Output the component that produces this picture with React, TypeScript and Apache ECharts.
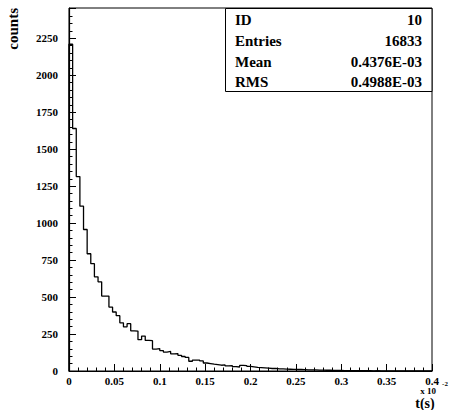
import React, { useEffect, useRef } from "react";
import * as echarts from "echarts";

// ---- data ----
const xMin = 0;
const xMax = 0.4;
const yMax = 2455;
const counts = [
  2210, 1640, 1315, 1115, 957, 793, 726, 637, 603, 507,
  507, 432, 399, 374, 326, 299, 320, 272, 270, 212,
  236, 207, 205, 148, 152, 138, 128, 132, 116, 118,
  106, 98, 92, 66, 74, 73, 68, 54, 50, 46,
  43, 39, 41, 34, 36, 29, 27, 38, 36, 31,
  28, 24, 23, 21, 19, 17, 18, 15, 14, 13,
  12, 11, 10, 10, 9, 8, 7, 7, 6, 6,
  5, 5, 4, 4, 4, 3, 3, 3, 2, 3,
  2, 2, 2, 1, 2, 1, 1, 1, 1, 1,
  0, 1, 0, 1, 0, 0, 1, 0, 0, 0,
];
const statsLabels = ["ID", "Entries", "Mean", "RMS"];
const statsValues = ["10", "16833", "0.4376E-03", "0.4988E-03"];
const yTitle = "counts";
const xTitle = "t(s)";
const xScaleText = "x 10";
const xScaleExp = "-2";

const FAMILY = "Liberation Serif";

function txt(text: string, size: number, align: string, vAlign = "middle") {
  return {
    text,
    fontFamily: FAMILY,
    fontWeight: "bold",
    fontSize: size,
    fill: "#000",
    align,
    verticalAlign: vAlign,
  };
}

export default function App() {
  const ref = useRef<HTMLDivElement>(null);
  useEffect(() => {
    document.body.style.margin = "0";
    const chart = echarts.init(ref.current!, null, { renderer: "svg" });
    const binWidth = (xMax - xMin) / counts.length;
    const pts: number[][] = [[xMin, 0]];
    counts.forEach((c, i) => pts.push([xMin + i * binWidth, c]));
    pts.push([xMax, counts[counts.length - 1]]);

    const rowY = [20, 41, 62, 82];
    const statsGraphics: any[] = [];
    statsGraphics.push({
      type: "rect",
      shape: { x: 225.5, y: 8.5, width: 206.5, height: 83 },
      style: { fill: "#fff", stroke: "#000", lineWidth: 1 },
      z: 10,
    });
    statsLabels.forEach((l, i) => {
      statsGraphics.push({
        type: "text",
        x: 235,
        y: rowY[i],
        z: 11,
        style: txt(l, 15, "left"),
      });
      statsGraphics.push({
        type: "text",
        x: 422,
        y: rowY[i],
        z: 11,
        style: txt(statsValues[i], 15, "right"),
      });
    });

    const labelStyle = {
      color: "#000",
      fontFamily: FAMILY,
      fontWeight: "bold",
      fontSize: 11,
    };

    chart.setOption({
      animation: false,
      backgroundColor: "#fff",
      grid: {
        left: 69,
        top: 8,
        width: 363,
        height: 363,
        show: true,
        borderColor: "#000",
        borderWidth: 1,
        backgroundColor: "transparent",
      },
      xAxis: [
        {
          type: "value",
          min: xMin,
          max: xMax,
          interval: 0.05,
          axisLine: { show: true, onZero: false, lineStyle: { color: "#000", width: 1.2 } },
          axisTick: { show: true, inside: true, length: 7, lineStyle: { color: "#000" } },
          minorTick: { show: true, splitNumber: 5, length: 3.5, lineStyle: { color: "#000" } },
          axisLabel: { margin: 4, ...labelStyle },
          splitLine: { show: false },
        },
      ],
      yAxis: [
        {
          type: "value",
          min: 0,
          max: yMax,
          interval: 250,
          axisLine: { show: true, lineStyle: { color: "#000", width: 1.2 } },
          axisTick: { show: true, inside: true, length: 7, lineStyle: { color: "#000" } },
          axisLabel: {
            margin: 11,
            ...labelStyle,
            formatter: (v: number) => (v % 250 === 0 ? String(v) : ""),
          },
          splitLine: { show: false },
        },
        {
          type: "value",
          min: 0,
          max: yMax,
          interval: 50,
          position: "left",
          axisLine: { show: false },
          axisTick: { show: true, inside: true, length: 3.5, lineStyle: { color: "#000" } },
          axisLabel: { show: false },
          splitLine: { show: false },
        },
        {
          type: "value",
          min: 0,
          max: yMax,
          interval: 250,
          position: "left",
          offset: 56,
          axisLine: { show: false },
          axisTick: { show: false },
          axisLabel: { show: false },
          splitLine: { show: false },
          name: yTitle,
          nameLocation: "end",
          nameRotate: 90,
          nameGap: 0,
          nameTextStyle: {
            color: "#000",
            fontFamily: FAMILY,
            fontWeight: "bold",
            fontSize: 15,
            align: "right",
            verticalAlign: "middle",
          },
        },
      ],
      series: [
        {
          type: "line",
          step: "end",
          data: pts,
          xAxisIndex: 0,
          yAxisIndex: 0,
          showSymbol: false,
          symbol: "none",
          lineStyle: { color: "#000", width: 1.3 },
          silent: true,
          z: 3,
        },
      ],
      graphic: [
        ...statsGraphics,
        {
          type: "text",
          x: 425,
          y: 403,
          style: txt(xTitle, 14, "center"),
        },
        {
          type: "text",
          x: 428,
          y: 391,
          style: txt(xScaleText, 9, "center"),
        },
        {
          type: "text",
          x: 445,
          y: 384,
          style: txt(xScaleExp, 7, "center"),
        },
      ],
    });
    return () => chart.dispose();
  }, []);
  return <div ref={ref} style={{ width: 451, height: 410 }} />;
}
